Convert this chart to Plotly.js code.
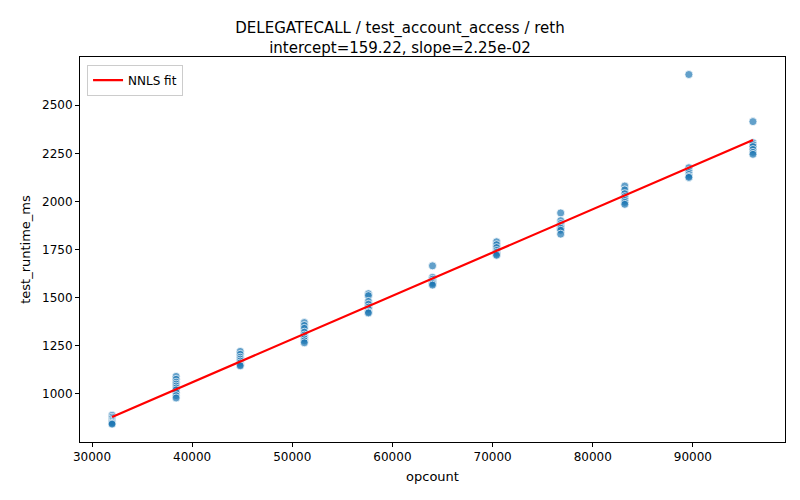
<!DOCTYPE html>
<html>
<head>
<meta charset="utf-8">
<script src="https://cdn.plot.ly/plotly-3.0.1.min.js"></script>
<style>
  html, body { margin: 0; padding: 0; background: #fff; }
  #chart { width: 800px; height: 500px; }
</style>
</head>
<body>
<div id="chart"></div>
<script>
const opcounts = [32000, 38400, 44800, 51200, 57600, 64000, 70400, 76800, 83200, 89600, 96000];
const runtimes = [
    [888, 878, 870, 862, 856, 850, 846, 842],
    [1090, 1075, 1060, 1050, 1040, 1030, 1020, 1005, 990, 978],
    [1220, 1205, 1190, 1180, 1170, 1160, 1150, 1145],
    [1370, 1355, 1340, 1320, 1305, 1295, 1285, 1275, 1265],
    [1520, 1510, 1480, 1465, 1450, 1440, 1425, 1420],
    [1665, 1605, 1595, 1585, 1578, 1572, 1565],
    [1790, 1775, 1760, 1745, 1735, 1725, 1720],
    [1940, 1900, 1885, 1875, 1865, 1860, 1850, 1830],
    [2080, 2060, 2040, 2025, 2015, 2005, 1995, 1985],
    [2660, 2175, 2160, 2150, 2140, 2130, 2125],
    [2415, 2305, 2295, 2285, 2270, 2255, 2245],
];

// NNLS fit parameters
const intercept = 159.22;
const slope = 2.25e-02;
const fitX = [opcounts[0], opcounts[opcounts.length - 1]];

const xTicks = [30000, 40000, 50000, 60000, 70000, 80000, 90000];
const yTicks = [1000, 1250, 1500, 1750, 2000, 2250, 2500];

const scatterX = [];
const scatterY = [];
opcounts.forEach((op, i) => {
    runtimes[i].forEach(v => { scatterX.push(op); scatterY.push(v); });
});

const FONT = "DejaVu Sans, sans-serif";

const traces = [
    {
        x: scatterX,
        y: scatterY,
        type: "scatter",
        mode: "markers",
        showlegend: false,
        marker: {
            size: 8,
            color: "rgba(31,119,180,0.7)",
            line: { color: "rgba(255,255,255,0.9)", width: 0.8 },
        },
    },
    {
        x: fitX,
        y: fitX.map(x => intercept + slope * x),
        type: "scatter",
        mode: "lines",
        name: "NNLS fit",
        line: { color: "red", width: 2.2 },
    },
];

const axisCommon = {
    showgrid: false,
    zeroline: false,
    showline: true,
    linecolor: "black",
    linewidth: 1,
    mirror: true,
    ticks: "outside",
    ticklen: 4,
    tickcolor: "black",
    tickfont: { family: FONT, size: 12, color: "black" },
};

const layout = {
    width: 800,
    height: 500,
    paper_bgcolor: "white",
    plot_bgcolor: "white",
    margin: { l: 80, r: 15, t: 57, b: 58 },
    font: { family: FONT, color: "black" },
    title: {
        text: "DELEGATECALL / test_account_access / reth<br>intercept=159.22, slope=2.25e-02",
        font: { family: FONT, size: 15, color: "black" },
        x: 0.5,
        xanchor: "center",
        yref: "container",
        y: 0.934,
        yanchor: "middle",
    },
    xaxis: Object.assign({}, axisCommon, {
        range: [28800, 99200],
        tickvals: xTicks,
        ticktext: xTicks.map(String),
        title: { text: "opcount", font: { family: FONT, size: 13 }, standoff: 8 },
    }),
    yaxis: Object.assign({}, axisCommon, {
        range: [749, 2751],
        tickvals: yTicks,
        ticktext: yTicks.map(String),
        title: { text: "test_runtime_ms", font: { family: FONT, size: 13 }, standoff: 8 },
    }),
    showlegend: true,
    legend: {
        x: 0.01, y: 0.98,
        xanchor: "left", yanchor: "top",
        bgcolor: "rgba(255,255,255,0.8)",
        bordercolor: "#cccccc",
        borderwidth: 1,
        font: { family: FONT, size: 12, color: "black" },
    },
};

Plotly.newPlot("chart", traces, layout, { staticPlot: true });
</script>
</body>
</html>
